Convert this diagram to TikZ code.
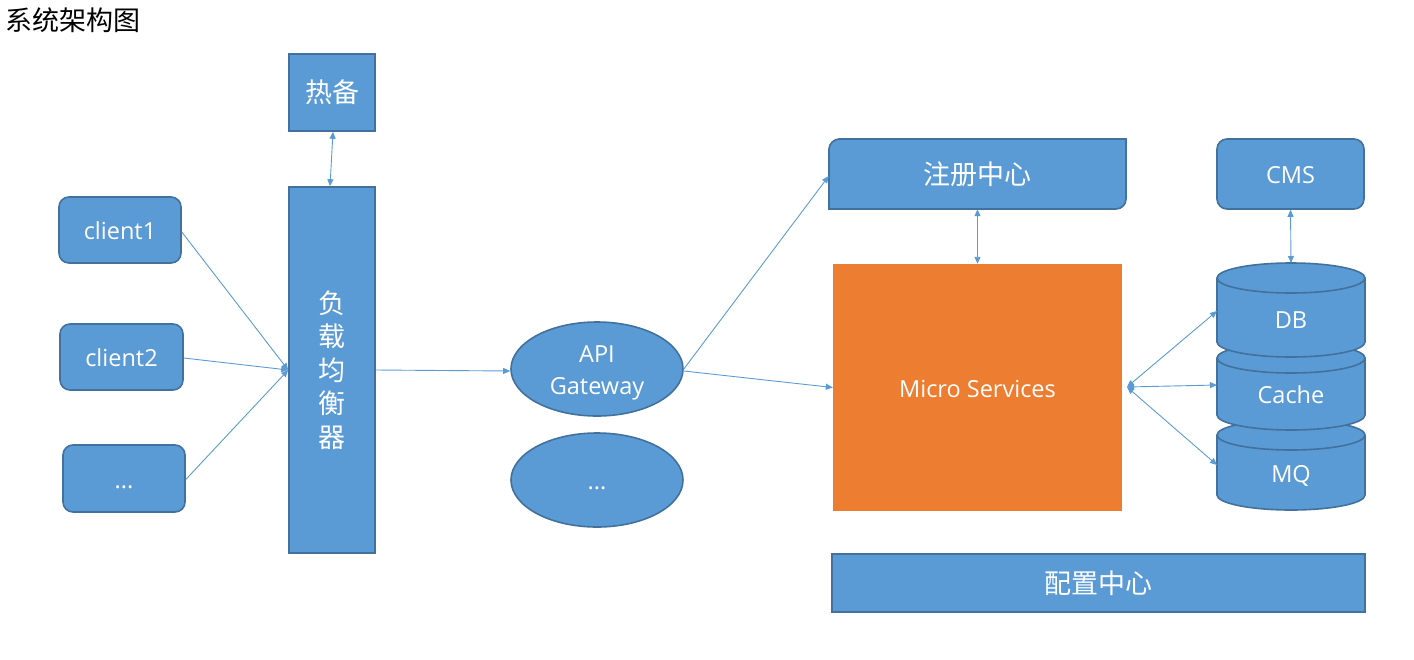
\documentclass[tikz,border=0pt]{standalone}
\usepackage{fontspec}
\setmainfont{Open Sans}
\newfontfamily\cjk{Noto Sans CJK SC}
\usetikzlibrary{arrows.meta,shapes.geometric,calc}
\definecolor{boxfill}{HTML}{5B9BD5}
\definecolor{boxline}{HTML}{41719C}
\definecolor{orng}{HTML}{ED7D31}
\tikzset{
  box/.style={draw=boxline, fill=boxfill, line width=1.6pt, text=white, inner sep=0pt},
  rbox/.style={box, rounded corners=10pt},
  lat/.style={font=\fontsize{23.5}{32}\selectfont},
  onel/.style={lat, text height=19, text depth=0},
  cjkf/.style={font=\cjk\fontsize{27}{33.5}\selectfont},
  tip/.tip={Triangle[width=6pt,length=7pt]},
  arr/.style={draw=boxfill, line width=0.9pt, -tip},
  darr/.style={draw=boxfill, line width=0.9pt, tip-tip},
}
\begin{document}
\begin{tikzpicture}[x=1pt,y=-1pt]
\useasboundingbox (0,0) rectangle (1414,659);
% title
\node[anchor=west, font=\cjk\fontsize{27}{27}\selectfont, inner sep=0pt] (title) at (5,20) {系统架构图};
% hot standby and load balancer
\node[box, cjkf, minimum width=86, minimum height=77] (hb) at (332,92.5) {热备};
\node[box, cjkf, minimum width=86, minimum height=366, align=center] (lb) at (332,370) {负\\载\\均\\衡\\器};
% clients
\node[rbox, onel, minimum width=122, minimum height=66] (c1) at (120,230) {client1};
\node[rbox, onel, minimum width=123, minimum height=66] (c2) at (121.5,357) {client2};
\node[rbox, onel, minimum width=122, minimum height=67] (c3) at (124,478.5) {...};
% gateways
\node[box, ellipse, minimum width=172, minimum height=94] (api) at (597,369) {};
\node[lat, text=white, align=center] (apitext) at (597,373) {API\\Gateway};
\node[box, ellipse, onel, minimum width=172, minimum height=94] (gw2) at (597,480) {...};
% registry (rounded top-left and bottom-right)
\fill[boxfill] (829,149) .. controls (829,143.5) and (834.5,139) .. (839,139) -- (1126,139) -- (1126,199)
  .. controls (1126,204.5) and (1121.5,209) .. (1116,209) -- (829,209) -- cycle;
\draw[boxline, line width=1.6pt] (829,149) .. controls (829,143.5) and (834.5,139) .. (839,139) -- (1126,139) -- (1126,199)
  .. controls (1126,204.5) and (1121.5,209) .. (1116,209) -- (829,209) -- cycle;
\node[cjkf, text=white, minimum width=297, minimum height=70, inner sep=0pt] (reg) at (977.5,174) {注册中心};
% micro services
\node[fill=orng, text=white, onel, minimum width=289, minimum height=247, inner sep=0pt] (ms) at (977.5,387.5) {Micro Services};
% config
\node[box, cjkf, minimum width=533, minimum height=58] (cfg) at (1098.5,583) {配置中心};
% CMS
\node[rbox, onel, minimum width=147, minimum height=70] (cms) at (1290.5,174) {CMS};
% cylinders: MQ, Cache, DB (back to front)
\foreach \t/\b in {435/495, 358/415, 278/342}{
  \filldraw[boxfill, draw=boxline, line width=1.6pt] (1291,\b) ellipse [x radius=74, y radius=15];
  \fill[boxfill] (1217,\t) rectangle (1365,\b);
  \draw[boxline, line width=1.6pt] (1217,\t) -- (1217,\b) (1365,\t) -- (1365,\b);
  \filldraw[boxfill, draw=boxline, line width=1.6pt] (1291,\t) ellipse [x radius=74, y radius=15];
}
\node[onel, text=white] (db) at (1291,319) {DB};
\node[onel, text=white] (cache) at (1291,394) {Cache};
\node[onel, text=white] (mq) at (1291,473) {MQ};
\coordinate (dbT) at (1291,263);
\coordinate (dbL) at (1217,311);
\coordinate (caL) at (1217,385);
\coordinate (mqL) at (1217,465);
\coordinate (hub) at (1127,387);
% connectors
\draw[darr] ($(hb.south)+(1,0)$) -- ($(lb.north)+(-2,0)$);
\draw[arr] ($(c1.east)+(0,2)$) -- (lb.west);
\draw[arr] ($(c2.east)+(0,1)$) -- (lb.west);
\draw[arr] ($(c3.east)+(0,1)$) -- (lb.west);
\draw[arr] (lb.east) -- ($(api.west)+(0,2)$);
\draw[arr] (api.east) -- ($(reg.west)+(0,2)$);
\draw[arr] ($(api.east)+(0,2)$) -- (ms.west);
\draw[darr] (reg.south) -- (ms.north);
\draw[darr] (cms.south) -- (dbT);
\draw[darr] (hub) -- (dbL);
\draw[darr] (hub) -- (caL);
\draw[darr] (hub) -- (mqL);
\end{tikzpicture}
\end{document}
